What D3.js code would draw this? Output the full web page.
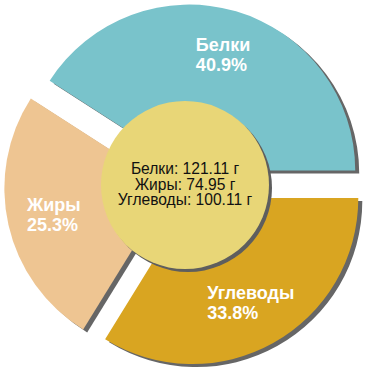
<!DOCTYPE html>
<html><head><meta charset="utf-8">
<script src="https://cdn.jsdelivr.net/npm/d3@7/dist/d3.min.js"></script>
<style>html,body{margin:0;padding:0;background:#fff;}svg{display:block;}</style>
</head><body>
<svg id="chart" width="370" height="370"></svg>
<script>
const categories = ["Белки", "Жиры", "Углеводы"];
const values = [121.11, 74.95, 100.11];
const units = "г";
const colors = ["#79C3CB", "#EEC592", "#D9A521"];

const W = 370, H = 370, cx = 185, cy = 185;
const R = 166, explode = 15, innerR = 84, labelR = 120;
const svg = d3.select("#chart");
const total = d3.sum(values);
const data = categories.map((c, i) => ({name: c, value: values[i], color: colors[i]}));

const pie = d3.pie().sort(null).value(d => d.value)
  .startAngle(Math.PI / 2).endAngle(Math.PI / 2 - 2 * Math.PI);
const arcs = pie(data);
const arc = d3.arc().innerRadius(0).outerRadius(R);

function off(a, r) { const m = (a.startAngle + a.endAngle) / 2; return [Math.sin(m) * r, -Math.cos(m) * r]; }

const g = svg.append("g").attr("transform", `translate(${cx},${cy})`);
// shadows
g.selectAll("path.sh").data(arcs).join("path").attr("class", "sh")
  .attr("d", arc).attr("fill", "#666666")
  .attr("transform", d => { const o = off(d, explode); return `translate(${o[0] + 4},${o[1] + 3})`; });
// slices
g.selectAll("path.sl").data(arcs).join("path").attr("class", "sl")
  .attr("d", arc).attr("fill", d => d.data.color)
  .attr("transform", d => { const o = off(d, explode); return `translate(${o[0]},${o[1]})`; });
// center circle
g.append("circle").attr("cx", 3).attr("cy", 3).attr("r", innerR).attr("fill", "#5e5e5e");
g.append("circle").attr("cx", 0).attr("cy", 0).attr("r", innerR).attr("fill", "#E8D677");

// slice labels
arcs.forEach(d => {
  const o = off(d, explode + labelR);
  const pct = (d.data.value / total * 100).toFixed(1) + "%";
  const t = g.append("text").attr("fill", "#fff").attr("font-family", "'Liberation Sans', Arial, sans-serif")
    .attr("font-weight", "bold").attr("font-size", 18);
  t.append("tspan").attr("x", 0).attr("y", 0).text(d.data.name);
  t.append("tspan").attr("x", 0).attr("y", 20).text(pct);
  const bb = t.node().getBBox();
  t.attr("transform", `translate(${o[0] - (bb.x + bb.width / 2)},${o[1] - (bb.y + bb.height / 2)})`);
});

// center text
const ct = g.append("text").attr("text-anchor", "middle").attr("fill", "#111")
  .attr("font-family", "'Liberation Sans', Arial, sans-serif").attr("font-size", 15.6);
data.forEach((d, i) => {
  ct.append("tspan").attr("x", 0).attr("y", -11 + i * 15.5)
    .text(`${d.name}: ${d.value} ${units}`);
});
</script>
</body></html>
